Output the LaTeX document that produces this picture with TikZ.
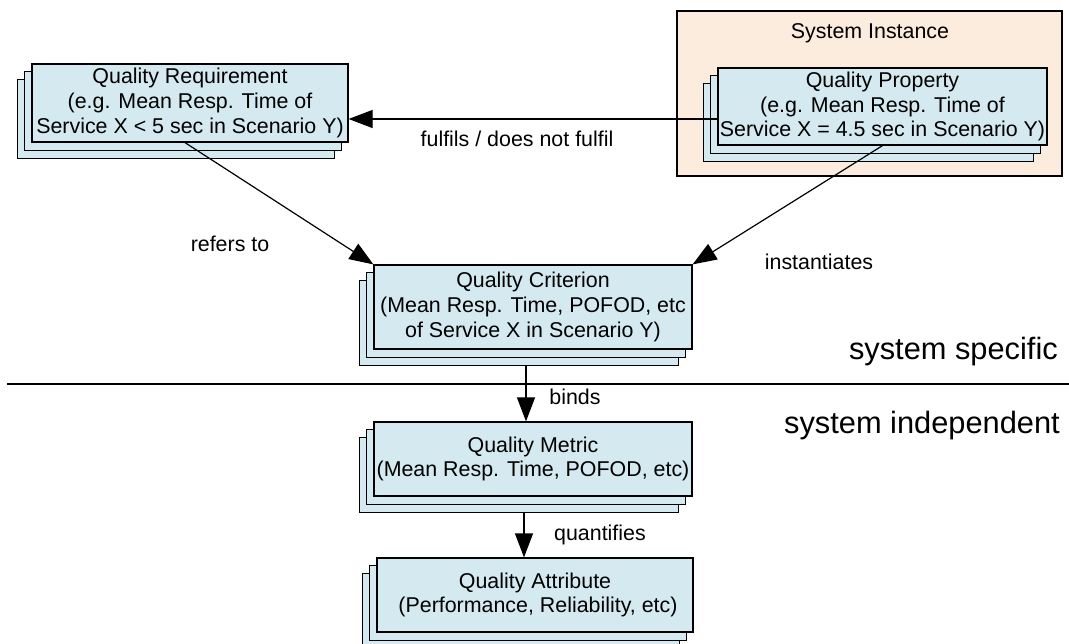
\documentclass[tikz,border=0pt]{standalone}
\usepackage{fontspec}
\setmainfont{Liberation Sans}
\usetikzlibrary{arrows.meta}
\pgfdeclarelayer{background}
\pgfdeclarelayer{stack}
\pgfsetlayers{background,stack,main}
\definecolor{boxfill}{RGB}{212,234,240}
\definecolor{groupfill}{RGB}{252,236,221}

% two offset copies behind a box, giving the stacked-sheet look
\newcommand\sheetstack[1]{%
  \begin{pgfonlayer}{stack}
    \foreach \s in {2,1}{%
      \draw[qback] ([shift={(-7pt*\s,-8pt*\s)}]#1.south west)
        rectangle ([shift={(-7pt*\s,-8pt*\s)}]#1.north east);
    }
  \end{pgfonlayer}}

\begin{document}
\begin{tikzpicture}[x=1pt,y=-1pt,
  qbox/.style={draw=black, line width=1.2pt, fill=boxfill, align=center,
    inner sep=0pt, font=\fontsize{21.4}{24.6}\selectfont},
  qback/.style={draw=black, line width=1.2pt, fill=boxfill},
  lbl/.style={font=\fontsize{21.4}{24.6}\selectfont, inner sep=0pt},
  big/.style={font=\fontsize{30.8}{36}\selectfont, inner sep=0pt},
  arr/.style={line width=1.2pt, -{Triangle[length=24pt,width=18pt]}},
]
\useasboundingbox (0,0) rectangle (1069,644);

% system instance group
\begin{pgfonlayer}{background}
  \node[draw=black, line width=1.2pt, fill=groupfill, minimum width=385pt,
    minimum height=165pt, inner sep=0pt] (sys) at (869.5,93.5) {};
\end{pgfonlayer}
\node[lbl] (systitle) at (870,33) {System Instance};

% stacked boxes
\node[qbox, minimum width=316pt, minimum height=78pt] (req) at (190,103)
  {Quality Requirement\\(e.g. Mean Resp. Time of\\Service X < 5 sec in Scenario Y)};
\sheetstack{req}

\node[qbox, minimum width=329pt, minimum height=77pt] (prop) at (882.5,106.5)
  {Quality Property\\(e.g. Mean Resp. Time of\\Service X = 4.5 sec in Scenario Y)};
\sheetstack{prop}

\node[qbox, minimum width=318pt, minimum height=84pt] (crit) at (533,307)
  {Quality Criterion\\(Mean Resp. Time, POFOD, etc\\of Service X in Scenario Y)};
\sheetstack{crit}

\node[qbox, minimum width=318pt, minimum height=74pt] (metric) at (533,459)
  {Quality Metric\\(Mean Resp. Time, POFOD, etc)};
\sheetstack{metric}

\node[qbox, minimum width=316pt, minimum height=74pt] (attr) at (535,595)
  {Quality Attribute\\\hspace*{6pt}(Performance, Reliability, etc)};
\sheetstack{attr}

% separator between the two levels
\coordinate (sepL) at (7,384);
\coordinate (sepR) at (1069,384);
\draw[line width=1.6pt] (sepL) -- (sepR);
\node[big, anchor=base east] (spec) at (1058,360) {system specific};
\node[big, anchor=base east] (indep) at (1060,434) {system independent};

% relations
\draw[arr] ([yshift=-12.5pt]prop.west) -- ([yshift=-12.5pt]prop.west -| req.east);
\node[lbl] (lfulfil) at (517,139) {fulfils / does not fulfil};

\draw[arr] ([xshift=-5pt]req.south) -- (crit.north west);
\node[lbl] (lrefers) at (230,244) {refers to};

\draw[arr] (prop.south) -- (crit.north east);
\node[lbl] (linst) at (819,262) {instantiates};

\draw[arr] ([shift={(-7pt,-16pt)}]crit.south) -- ([xshift=-7pt]metric.north);
\node[lbl] (lbinds) at (575,397) {binds};

\draw[arr] ([shift={(-9pt,-16pt)}]metric.south) -- ([xshift=-11pt]attr.north);
\node[lbl] (lquant) at (600,535) {quantifies};
\end{tikzpicture}
\end{document}
